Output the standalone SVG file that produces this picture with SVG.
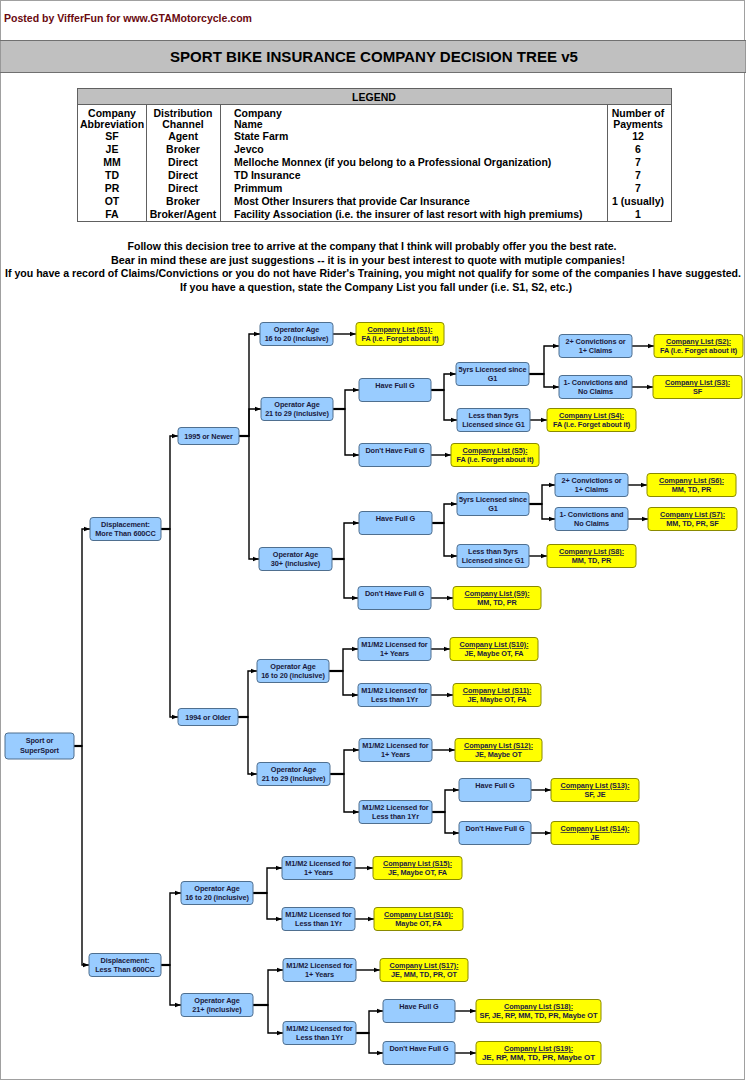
<svg xmlns="http://www.w3.org/2000/svg" width="746" height="1080" viewBox="0 0 746 1080">
<style>
text{font-family:"Liberation Sans",Arial,sans-serif;font-weight:bold}
.nb rect{fill:#99ccff;stroke:#4f6f8f;stroke-width:1}
.ny rect{fill:#ffff00;stroke:#8a8a00;stroke-width:1}
.nb text,.ny text{font-size:7.3px;letter-spacing:-0.08px;fill:#1a1a40;text-anchor:middle}
.u{text-decoration:underline}
.c path{fill:none;stroke:#000;stroke-width:1.4;marker-end:url(#ah)}
.c path.s{stroke-width:2.2;marker-end:none}
.lg text{font-size:10.5px;fill:#000}
.m{text-anchor:middle}
.p text{font-size:10.5px;fill:#000;text-anchor:middle}
</style>
<defs>
<marker id="ah" markerUnits="userSpaceOnUse" markerWidth="6" markerHeight="6" viewBox="0 0 6 6" refX="6" refY="3" orient="auto">
<path d="M0,0.8 L6,3 L0,5.2 z" fill="#000"/>
</marker>
</defs>
<rect x="0" y="0" width="746" height="1080" fill="#fff"/>
<rect x="0.5" y="0.5" width="744" height="1079" fill="none" stroke="#a0a0a0"/>

<g id="header">
<text x="4" y="22" font-size="11" fill="#6a0a10" textLength="248" lengthAdjust="spacingAndGlyphs">Posted by VifferFun for www.GTAMotorcycle.com</text>
<rect x="0" y="40.5" width="746" height="32" fill="#c0c0c0" stroke="#707070"/>
<text x="374" y="62" font-size="15" fill="#000" text-anchor="middle" textLength="408" lengthAdjust="spacingAndGlyphs">SPORT BIKE INSURANCE COMPANY DECISION TREE v5</text>
</g>

<g id="legend" class="lg">
<rect x="77.5" y="88.5" width="594" height="16" fill="#c0c0c0" stroke="#606060"/>
<rect x="77.5" y="104.5" width="594" height="117" fill="#fff" stroke="#606060"/>
<line x1="146.5" y1="104.5" x2="146.5" y2="221.5" stroke="#606060"/>
<line x1="220.5" y1="104.5" x2="220.5" y2="221.5" stroke="#606060"/>
<line x1="607.5" y1="104.5" x2="607.5" y2="221.5" stroke="#606060"/>
<text x="374" y="101" class="m" font-size="12">LEGEND</text>
<text x="112" y="117" class="m">Company</text>
<text x="112" y="128" class="m">Abbreviation</text>
<text x="183" y="117" class="m">Distribution</text>
<text x="183" y="128" class="m">Channel</text>
<text x="234" y="117">Company</text>
<text x="234" y="128">Name</text>
<text x="638" y="117" class="m">Number of</text>
<text x="638" y="128" class="m">Payments</text>
<text x="112" y="140" class="m">SF</text><text x="183" y="140" class="m">Agent</text><text x="234" y="140">State Farm</text><text x="638" y="140" class="m">12</text>
<text x="112" y="153" class="m">JE</text><text x="183" y="153" class="m">Broker</text><text x="234" y="153">Jevco</text><text x="638" y="153" class="m">6</text>
<text x="112" y="166" class="m">MM</text><text x="183" y="166" class="m">Direct</text><text x="234" y="166">Melloche Monnex (if you belong to a Professional Organization)</text><text x="638" y="166" class="m">7</text>
<text x="112" y="179" class="m">TD</text><text x="183" y="179" class="m">Direct</text><text x="234" y="179">TD Insurance</text><text x="638" y="179" class="m">7</text>
<text x="112" y="192" class="m">PR</text><text x="183" y="192" class="m">Direct</text><text x="234" y="192">Primmum</text><text x="638" y="192" class="m">7</text>
<text x="112" y="205" class="m">OT</text><text x="183" y="205" class="m">Broker</text><text x="234" y="205">Most Other Insurers that provide Car Insurance</text><text x="638" y="205" class="m">1 (usually)</text>
<text x="112" y="218" class="m">FA</text><text x="183" y="218" class="m">Broker/Agent</text><text x="234" y="218">Facility Association (i.e. the insurer of last resort with high premiums)</text><text x="638" y="218" class="m">1</text>
</g>

<g id="intro" class="p">
<text x="372" y="250" textLength="489" lengthAdjust="spacingAndGlyphs">Follow this decision tree to arrive at the company that I think will probably offer you the best rate.</text>
<text x="368" y="263.5" textLength="514" lengthAdjust="spacingAndGlyphs">Bear in mind these are just suggestions -- it is in your best interest to quote with mutiple companies!</text>
<text x="373" y="277" textLength="736" lengthAdjust="spacingAndGlyphs">If you have a record of Claims/Convictions or you do not have Rider's Training, you might not qualify for some of the companies I have suggested.</text>
<text x="376" y="290.5" textLength="392" lengthAdjust="spacingAndGlyphs">If you have a question, state the Company List you fall under (i.e. S1, S2, etc.)</text>
</g>

<g id="connectors" class="c">
<path class="s" d="M74,746 H82"/>
<path d="M74,746 H82 V529 H90"/>
<path d="M74,746 H82 V965 H89"/>
<path class="s" d="M161,529 H170"/>
<path d="M161,529 H170 V436 H178"/>
<path d="M161,529 H170 V717 H178"/>
<path class="s" d="M161,965 H170"/>
<path d="M161,965 H170 V893 H181"/>
<path d="M161,965 H170 V1005 H181"/>
<path class="s" d="M239,436 H249"/>
<path d="M239,436 H249 V334 H260"/>
<path d="M239,436 H249 V409 H261"/>
<path d="M239,436 H249 V559 H259"/>
<path d="M333,334 H356"/>
<path class="s" d="M333,409 H345"/>
<path d="M333,409 H345 V390 H359"/>
<path d="M333,409 H345 V455 H359"/>
<path class="s" d="M431,390 H444"/>
<path d="M431,390 H444 V374 H456"/>
<path d="M431,390 H444 V420 H457"/>
<path d="M431,455 H451"/>
<path class="s" d="M529,374 H544"/>
<path d="M529,374 H544 V346 H559"/>
<path d="M529,374 H544 V387 H559"/>
<path d="M530,420 H547"/>
<path d="M632,346 H654"/>
<path d="M632,387 H653"/>
<path class="s" d="M332,559 H344"/>
<path d="M332,559 H344 V523 H359"/>
<path d="M332,559 H344 V598 H358"/>
<path class="s" d="M432,523 H444"/>
<path d="M432,523 H444 V504 H457"/>
<path d="M432,523 H444 V556 H457"/>
<path d="M431,598 H453"/>
<path class="s" d="M529,504 H542"/>
<path d="M529,504 H542 V485 H555"/>
<path d="M529,504 H542 V519 H555"/>
<path d="M529,556 H547"/>
<path d="M628,485 H647"/>
<path d="M628,519 H648"/>
<path class="s" d="M238,717 H248"/>
<path d="M238,717 H248 V671 H257"/>
<path d="M238,717 H248 V774 H257"/>
<path class="s" d="M329,671 H343"/>
<path d="M329,671 H343 V649 H358"/>
<path d="M329,671 H343 V695 H358"/>
<path d="M431,649 H450"/>
<path d="M431,695 H453"/>
<path class="s" d="M330,774 H344"/>
<path d="M330,774 H344 V750 H359"/>
<path d="M330,774 H344 V812 H359"/>
<path d="M432,750 H455"/>
<path class="s" d="M432,812 H445"/>
<path d="M432,812 H445 V790 H459"/>
<path d="M432,812 H445 V833 H459"/>
<path d="M531,790 H551"/>
<path d="M531,833 H551"/>
<path class="s" d="M253,893 H267"/>
<path d="M253,893 H267 V868 H282"/>
<path d="M253,893 H267 V919 H282"/>
<path d="M355,868 H373"/>
<path d="M355,919 H374"/>
<path class="s" d="M253,1005 H268"/>
<path d="M253,1005 H268 V970 H283"/>
<path d="M253,1005 H268 V1033 H283"/>
<path d="M356,970 H380"/>
<path class="s" d="M356,1033 H369"/>
<path d="M356,1033 H369 V1011 H383"/>
<path d="M356,1033 H369 V1053 H383"/>
<path d="M455,1011 H476"/>
<path d="M455,1053 H476"/>
</g>

<g id="n-root" class="nb"><rect x="5" y="733" width="69" height="26" rx="3"/><text x="39.5" y="742.5">Sport or</text><text x="39.5" y="752.5">SuperSport</text></g>
<g id="n-disp-more" class="nb"><rect x="90" y="517.5" width="71" height="23" rx="3"/><text x="125.5" y="526.5">Displacement:</text><text x="125.5" y="536">More Than 600CC</text></g>
<g id="n-disp-less" class="nb"><rect x="89" y="953.5" width="72" height="23" rx="3"/><text x="125" y="962.5">Displacement:</text><text x="125" y="972">Less Than 600CC</text></g>
<g id="n-1995" class="nb"><rect x="178" y="427.5" width="61" height="17" rx="3"/><text x="208.5" y="438.5">1995 or Newer</text></g>
<g id="n-1994" class="nb"><rect x="178" y="708.5" width="60" height="17" rx="3"/><text x="208" y="719.5">1994 or Older</text></g>

<g id="n-a1" class="nb"><rect x="260" y="322.5" width="73" height="23" rx="3"/><text x="296.5" y="332">Operator Age</text><text x="296.5" y="341">16 to 20 (inclusive)</text></g>
<g id="n-a2" class="nb"><rect x="261" y="397.5" width="72" height="23" rx="3"/><text x="297" y="407">Operator Age</text><text x="297" y="416">21 to 29 (inclusive)</text></g>
<g id="n-a3" class="nb"><rect x="259" y="547.5" width="73" height="23" rx="3"/><text x="295.5" y="557">Operator Age</text><text x="295.5" y="566">30+ (inclusive)</text></g>
<g id="n-s1" class="ny"><rect x="356" y="322.5" width="88" height="23" rx="3"/><text x="400" y="332" class="u">Company List (S1):</text><text x="400" y="341">FA (i.e. Forget about it)</text></g>
<g id="n-b1" class="nb"><rect x="359" y="378.5" width="72" height="23" rx="3"/><text x="395" y="388">Have Full G</text></g>
<g id="n-b2" class="nb"><rect x="359" y="443.5" width="72" height="23" rx="3"/><text x="395" y="453">Don't Have Full G</text></g>
<g id="n-s5" class="ny"><rect x="451" y="443.5" width="88" height="23" rx="3"/><text x="495" y="453" class="u">Company List (S5):</text><text x="495" y="462">FA (i.e. Forget about it)</text></g>
<g id="n-c1" class="nb"><rect x="456" y="362.5" width="73" height="23" rx="3"/><text x="492.5" y="372">5yrs Licensed since</text><text x="492.5" y="381">G1</text></g>
<g id="n-c2" class="nb"><rect x="457" y="408.5" width="73" height="23" rx="3"/><text x="493.5" y="418">Less than 5yrs</text><text x="493.5" y="427">Licensed since G1</text></g>
<g id="n-s4" class="ny"><rect x="547" y="408.5" width="89" height="23" rx="3"/><text x="591.5" y="418" class="u">Company List (S4):</text><text x="591.5" y="427">FA (i.e. Forget about it)</text></g>
<g id="n-d1" class="nb"><rect x="559" y="334.5" width="73" height="23" rx="3"/><text x="595.5" y="344">2+ Convictions or</text><text x="595.5" y="353">1+ Claims</text></g>
<g id="n-d2" class="nb"><rect x="559" y="375.5" width="73" height="23" rx="3"/><text x="595.5" y="385">1- Convictions and</text><text x="595.5" y="394">No Claims</text></g>
<g id="n-s2" class="ny"><rect x="654" y="334.5" width="89" height="23" rx="3"/><text x="698.5" y="344" class="u">Company List (S2):</text><text x="698.5" y="353">FA (i.e. Forget about it)</text></g>
<g id="n-s3" class="ny"><rect x="653" y="375.5" width="89" height="23" rx="3"/><text x="697.5" y="385" class="u">Company List (S3):</text><text x="697.5" y="394">SF</text></g>

<g id="n-b3" class="nb"><rect x="359" y="511.5" width="73" height="23" rx="3"/><text x="395.5" y="521">Have Full G</text></g>
<g id="n-b4" class="nb"><rect x="358" y="586.5" width="73" height="23" rx="3"/><text x="394.5" y="596">Don't Have Full G</text></g>
<g id="n-s9" class="ny"><rect x="453" y="586.5" width="88" height="23" rx="3"/><text x="497" y="596" class="u">Company List (S9):</text><text x="497" y="605">MM, TD, PR</text></g>
<g id="n-c3" class="nb"><rect x="457" y="492.5" width="72" height="23" rx="3"/><text x="493" y="502">5yrs Licensed since</text><text x="493" y="511">G1</text></g>
<g id="n-c4" class="nb"><rect x="457" y="544.5" width="72" height="23" rx="3"/><text x="493" y="554">Less than 5yrs</text><text x="493" y="563">Licensed since G1</text></g>
<g id="n-s8" class="ny"><rect x="547" y="544.5" width="89" height="23" rx="3"/><text x="591.5" y="554" class="u">Company List (S8):</text><text x="591.5" y="563">MM, TD, PR</text></g>
<g id="n-d3" class="nb"><rect x="555" y="473.5" width="73" height="23" rx="3"/><text x="591.5" y="483">2+ Convictions or</text><text x="591.5" y="492">1+ Claims</text></g>
<g id="n-d4" class="nb"><rect x="555" y="507.5" width="73" height="23" rx="3"/><text x="591.5" y="517">1- Convictions and</text><text x="591.5" y="526">No Claims</text></g>
<g id="n-s6" class="ny"><rect x="647" y="473.5" width="89" height="23" rx="3"/><text x="691.5" y="483" class="u">Company List (S6):</text><text x="691.5" y="492">MM, TD, PR</text></g>
<g id="n-s7" class="ny"><rect x="648" y="507.5" width="89" height="23" rx="3"/><text x="692.5" y="517" class="u">Company List (S7):</text><text x="692.5" y="526">MM, TD, PR, SF</text></g>

<g id="n-e1" class="nb"><rect x="257" y="659.5" width="72" height="23" rx="3"/><text x="293" y="669">Operator Age</text><text x="293" y="678">16 to 20 (inclusive)</text></g>
<g id="n-f1" class="nb"><rect x="358" y="637.5" width="73" height="23" rx="3"/><text x="394.5" y="647">M1/M2 Licensed for</text><text x="394.5" y="656">1+ Years</text></g>
<g id="n-f2" class="nb"><rect x="358" y="683.5" width="73" height="23" rx="3"/><text x="394.5" y="693">M1/M2 Licensed for</text><text x="394.5" y="702">Less than 1Yr</text></g>
<g id="n-s10" class="ny"><rect x="450" y="637.5" width="88" height="23" rx="3"/><text x="494" y="647" class="u">Company List (S10):</text><text x="494" y="656">JE, Maybe OT, FA</text></g>
<g id="n-s11" class="ny"><rect x="453" y="683.5" width="88" height="23" rx="3"/><text x="497" y="693" class="u">Company List (S11):</text><text x="497" y="702">JE, Maybe OT, FA</text></g>
<g id="n-e2" class="nb"><rect x="257" y="762.5" width="73" height="23" rx="3"/><text x="293.5" y="772">Operator Age</text><text x="293.5" y="781">21 to 29 (inclusive)</text></g>
<g id="n-f3" class="nb"><rect x="359" y="738.5" width="73" height="23" rx="3"/><text x="395.5" y="748">M1/M2 Licensed for</text><text x="395.5" y="757">1+ Years</text></g>
<g id="n-f4" class="nb"><rect x="359" y="800.5" width="73" height="23" rx="3"/><text x="395.5" y="810">M1/M2 Licensed for</text><text x="395.5" y="819">Less than 1Yr</text></g>
<g id="n-s12" class="ny"><rect x="455" y="738.5" width="87" height="23" rx="3"/><text x="498.5" y="748" class="u">Company List (S12):</text><text x="498.5" y="757">JE, Maybe OT</text></g>
<g id="n-g1" class="nb"><rect x="459" y="778.5" width="72" height="23" rx="3"/><text x="495" y="788">Have Full G</text></g>
<g id="n-g2" class="nb"><rect x="459" y="821.5" width="72" height="23" rx="3"/><text x="495" y="831">Don't Have Full G</text></g>
<g id="n-s13" class="ny"><rect x="551" y="778.5" width="88" height="23" rx="3"/><text x="595" y="788" class="u">Company List (S13):</text><text x="595" y="797">SF, JE</text></g>
<g id="n-s14" class="ny"><rect x="551" y="821.5" width="88" height="23" rx="3"/><text x="595" y="831" class="u">Company List (S14):</text><text x="595" y="840">JE</text></g>

<g id="n-h1" class="nb"><rect x="181" y="881.5" width="72" height="23" rx="3"/><text x="217" y="891">Operator Age</text><text x="217" y="900">16 to 20 (inclusive)</text></g>
<g id="n-i1" class="nb"><rect x="282" y="856.5" width="73" height="23" rx="3"/><text x="318.5" y="866">M1/M2 Licensed for</text><text x="318.5" y="875">1+ Years</text></g>
<g id="n-i2" class="nb"><rect x="282" y="907.5" width="73" height="23" rx="3"/><text x="318.5" y="917">M1/M2 Licensed for</text><text x="318.5" y="926">Less than 1Yr</text></g>
<g id="n-s15" class="ny"><rect x="373" y="856.5" width="89" height="23" rx="3"/><text x="417.5" y="866" class="u">Company List (S15):</text><text x="417.5" y="875">JE, Maybe OT, FA</text></g>
<g id="n-s16" class="ny"><rect x="374" y="907.5" width="89" height="23" rx="3"/><text x="418.5" y="917" class="u">Company List (S16):</text><text x="418.5" y="926">Maybe OT, FA</text></g>
<g id="n-h2" class="nb"><rect x="181" y="993.5" width="72" height="23" rx="3"/><text x="217" y="1003">Operator Age</text><text x="217" y="1012">21+ (inclusive)</text></g>
<g id="n-i3" class="nb"><rect x="283" y="958.5" width="73" height="23" rx="3"/><text x="319.5" y="968">M1/M2 Licensed for</text><text x="319.5" y="977">1+ Years</text></g>
<g id="n-i4" class="nb"><rect x="283" y="1021.5" width="73" height="23" rx="3"/><text x="319.5" y="1031">M1/M2 Licensed for</text><text x="319.5" y="1040">Less than 1Yr</text></g>
<g id="n-s17" class="ny"><rect x="380" y="958.5" width="88" height="23" rx="3"/><text x="424" y="968" class="u">Company List (S17):</text><text x="424" y="977">JE, MM, TD, PR, OT</text></g>
<g id="n-j1" class="nb"><rect x="383" y="999.5" width="72" height="23" rx="3"/><text x="419" y="1009">Have Full G</text></g>
<g id="n-j2" class="nb"><rect x="383" y="1041.5" width="72" height="23" rx="3"/><text x="419" y="1051">Don't Have Full G</text></g>
<g id="n-s18" class="ny"><rect x="476" y="999.5" width="125" height="23" rx="3"/><text x="538.5" y="1009" class="u">Company List (S18):</text><text x="538.5" y="1018" textLength="118" lengthAdjust="spacingAndGlyphs">SF, JE, RP, MM, TD, PR, Maybe OT</text></g>
<g id="n-s19" class="ny"><rect x="476" y="1041.5" width="125" height="23" rx="3"/><text x="538.5" y="1051" class="u">Company List (S19):</text><text x="538.5" y="1060" textLength="113" lengthAdjust="spacingAndGlyphs">JE, RP, MM, TD, PR, Maybe OT</text></g>
</svg>
